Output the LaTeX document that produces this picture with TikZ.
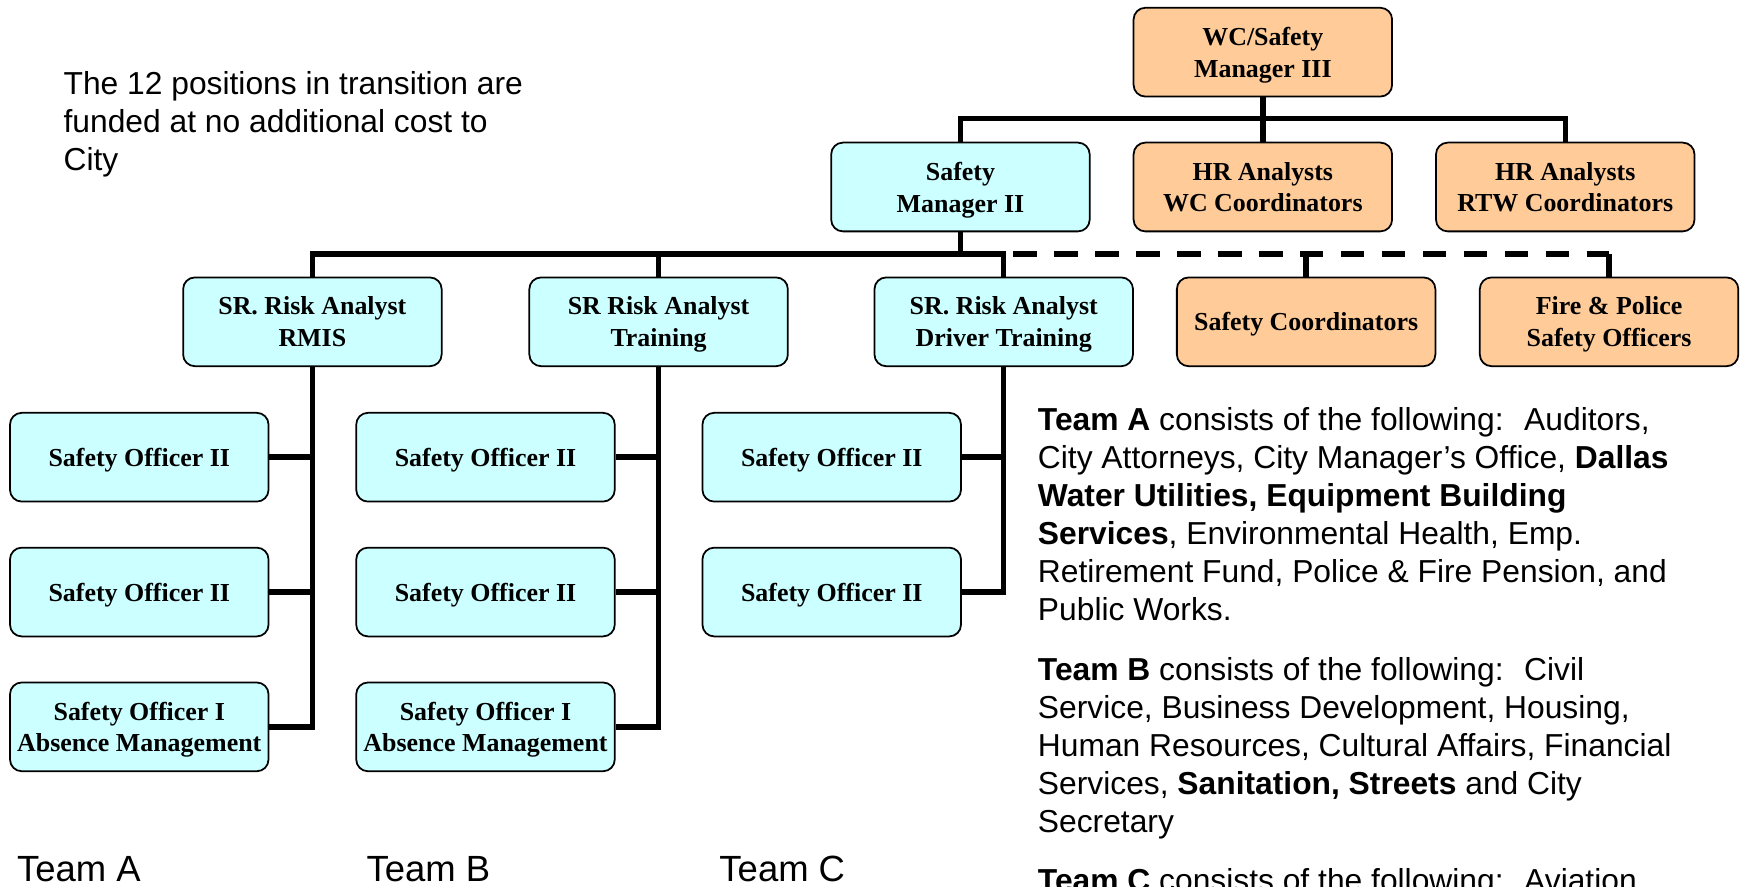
\documentclass[tikz,border=0pt]{standalone}
\usepackage{fontspec}
\setmainfont{Liberation Sans}
\newfontfamily\boxfont{Liberation Serif}
\usepackage{xcolor}
\usepackage{tikz}

\definecolor{cyanbox}{HTML}{CCFFFF}
\definecolor{orangebox}{HTML}{FFCC99}

\begin{document}
\begin{tikzpicture}[x=0.02cm, y=-0.02cm,
	post/.style={draw=black, line width=0.9pt, rounded corners=6pt, minimum width=4.66cm, minimum height=1.6cm, inner sep=1pt, text depth=0pt, align=center, font=\boxfont\bfseries\fontsize{13.3}{16.4}\selectfont},
	link/.style={line width=2.8pt},
	note/.style={anchor=north west, inner sep=0pt, align=left, font=\fontsize{16.3}{19.5}\selectfont},
	teamtag/.style={anchor=north west, inner sep=0pt, font=\fontsize{18.7}{22}\selectfont}]

\useasboundingbox (0,0) rectangle (1568,799);

% top of the chart
\node[post, fill=orangebox] (wc) at (1138,47) {WC/Safety\\Manager III};
\node[post, fill=cyanbox] (sm2) at (865.5,168.5) {Safety\\Manager II};
\node[post, fill=orangebox] (hrwc) at (1138,168.5) {HR Analysts\\WC Coordinators};
\node[post, fill=orangebox] (hrrtw) at (1410.5,168.5) {HR Analysts\\RTW Coordinators};

\node[post, fill=cyanbox] (rmis) at (281.5,290) {SR. Risk Analyst\\RMIS};
\node[post, fill=cyanbox] (trn) at (593.5,290) {SR Risk Analyst\\Training};
\node[post, fill=cyanbox] (drv) at (904.5,290) {SR. Risk Analyst\\Driver Training};
\node[post, fill=orangebox] (sc) at (1177,290) {Safety Coordinators};
\node[post, fill=orangebox] (fire) at (1450,290) {Fire \& Police\\Safety Officers};

\coordinate (bus1) at (1138,107);
\draw[link] (wc.south) -- (bus1);
\draw[link] (sm2.north) |- (bus1) -| (hrrtw.north);
\draw[link] (hrwc.north) -- (bus1);

\coordinate (bus2) at (865.5,229);
\draw[link] (sm2.south) -- (bus2);
\draw[link] (rmis.north) |- (bus2) -| (drv.north);
\draw[link] (trn.north) -- (trn.north |- bus2);
\draw[link, dash pattern=on 12pt off 9pt, dash phase=16pt] (drv.north |- bus2) -- (fire.north |- bus2);
\draw[link] (sc.north) -- (sc.north |- bus2);
\draw[link] (fire.north) -- (fire.north |- bus2);

% the officers under each analyst
\foreach \c/\x/\sr in {a/125.5/rmis, b/437.5/trn}{
	\node[post, fill=cyanbox] (\c1) at (\x,412) {Safety Officer II};
	\node[post, fill=cyanbox] (\c2) at (\x,533.5) {Safety Officer II};
	\node[post, fill=cyanbox] (\c3) at (\x,655) {Safety Officer I\\Absence Management};
	\draw[link] (\sr.south) |- (\c3.east);
	\draw[link] (\c1.east) -- (\c1.east -| \sr.south);
	\draw[link] (\c2.east) -- (\c2.east -| \sr.south);
}

\node[post, fill=cyanbox] (c1) at (749.5,412) {Safety Officer II};
\node[post, fill=cyanbox] (c2) at (749.5,533.5) {Safety Officer II};
\draw[link] (drv.south) |- (c2.east);
\draw[link] (c1.east) -- (c1.east -| drv.south);

% texts
\node[note] (intro) at (57,64) {The 12 positions in transition are\\funded at no additional cost to\\City};

\node[note] (teama) at (935,367) {\textbf{Team A} consists of the following:~ Auditors,\\City Attorneys, City Manager’s Office, \textbf{Dallas}\\\textbf{Water Utilities, Equipment Building}\\\textbf{Services}, Environmental Health, Emp.\\Retirement Fund, Police \& Fire Pension, and\\Public Works.};
\node[note] (teamb) at (935,592) {\textbf{Team B} consists of the following:~ Civil\\Service, Business Development, Housing,\\Human Resources, Cultural Affairs, Financial\\Services, \textbf{Sanitation, Streets} and City\\Secretary};
\node[note] (teamc) at (935,782) {\textbf{Team C} consists of the following:~ Aviation};

\node[teamtag] (taga) at (15,771) {Team A};
\node[teamtag] (tagb) at (330,771) {Team B};
\node[teamtag] (tagc) at (648,771) {Team C};
\end{tikzpicture}
\end{document}
